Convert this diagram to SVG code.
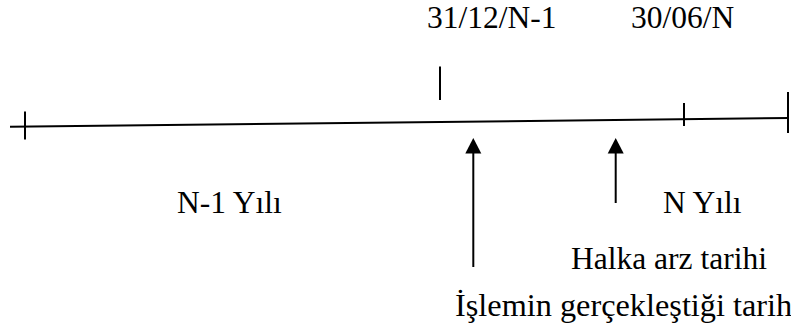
<svg xmlns="http://www.w3.org/2000/svg" width="791" height="335" viewBox="0 0 791 335">
<style>
.ln{stroke:#000;stroke-width:2;fill:none}
.t{font-family:"Liberation Serif","Times New Roman",serif;font-size:31.5px;fill:#000}
</style>
<rect width="791" height="335" fill="#fff"/>
<g id="connectors">
<line class="ln" x1="10" y1="126.8" x2="789" y2="118"/>
<line class="ln" x1="25" y1="111.5" x2="25" y2="139.5"/>
<line class="ln" x1="440" y1="66.5" x2="440" y2="100"/>
<line class="ln" x1="684" y1="103" x2="684" y2="126"/>
<line class="ln" x1="788" y1="92" x2="788" y2="133"/>
<line class="ln" x1="473.3" y1="152" x2="473.3" y2="267"/>
<polygon points="473.3,138 465.3,153.5 481.3,153.5" fill="#000"/>
<line class="ln" x1="615.7" y1="152" x2="615.7" y2="203"/>
<polygon points="615.7,138 607.7,153.5 623.7,153.5" fill="#000"/>
</g>
<g id="label-3112"><text class="t" x="427" y="28.3">31/12/N-1</text></g>
<g id="label-3006"><text class="t" x="631" y="28.3">30/06/N</text></g>
<g id="label-n1"><text class="t" x="177" y="213.3">N-1 Yılı</text></g>
<g id="label-n"><text class="t" x="663" y="213.3">N Yılı</text></g>
<g id="label-halka"><text class="t" x="571" y="269">Halka arz tarihi</text></g>
<g id="label-islem"><text class="t" x="455" y="315.5" style="font-size:32.3px">İşlemin gerçekleştiği tarih</text></g>
</svg>
